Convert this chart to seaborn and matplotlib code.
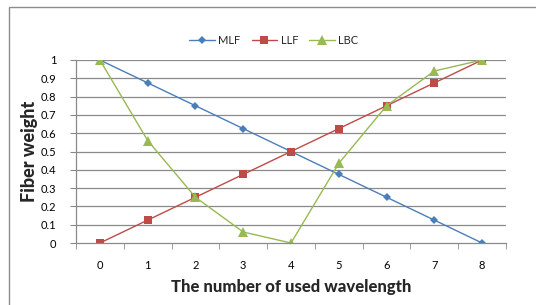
import matplotlib
matplotlib.use('Agg')
import matplotlib.pyplot as plt
import seaborn as sns
import pandas as pd
from matplotlib.patches import Rectangle

wavelengths = [0, 1, 2, 3, 4, 5, 6, 7, 8]
mlf = [1, 0.875, 0.75, 0.625, 0.5, 0.375, 0.25, 0.125, 0]
llf = [0, 0.125, 0.25, 0.375, 0.5, 0.625, 0.75, 0.875, 1]
lbc = [1, 0.56, 0.25, 0.06, 0, 0.435, 0.75, 0.94, 1]
yticks = [0, 0.1, 0.2, 0.3, 0.4, 0.5, 0.6, 0.7, 0.8, 0.9, 1]

df = pd.DataFrame({'x': wavelengths * 3,
                   'y': mlf + llf + lbc,
                   'series': ['MLF'] * 9 + ['LLF'] * 9 + ['LBC'] * 9})

sns.set_style('white')
plt.rcParams['font.family'] = ['Lato', 'DejaVu Sans']

fig = plt.figure(figsize=(5.36, 3.05), dpi=100)
ax = fig.add_axes([76/536, 1-243/305, 430/536, 183/305])

# outer chart border
fig.patches.append(Rectangle((9/536, -0.1), 1.2, 1-7/305+0.1, transform=fig.transFigure,
                             fill=False, edgecolor='#8c8c8c', linewidth=1.0))

palette = {'MLF': '#4a7ebb', 'LLF': '#be4b48', 'LBC': '#98b954'}
markers = {'MLF': 'D', 'LLF': 's', 'LBC': '^'}
sizes = {'MLF': 4, 'LLF': 6, 'LBC': 6.5}
for name in ['MLF', 'LLF', 'LBC']:
    sub = df[df['series'] == name]
    sns.lineplot(data=sub, x='x', y='y', ax=ax, color=palette[name], marker=markers[name],
                 markersize=sizes[name], markeredgewidth=0, linewidth=1.0, label=name,
                 alpha=1.0)

for yv in yticks[1:]:
    ax.axhline(yv, color='#8a8a8a', linewidth=0.9, zorder=0)

ax.set_xlim(-0.5, 8.5)
ax.set_ylim(0, 1)
ax.set_yticks(yticks)
ax.set_yticklabels(['0', '0.1', '0.2', '0.3', '0.4', '0.5', '0.6', '0.7', '0.8', '0.9', '1'])
ax.set_xticks(wavelengths)
ax.set_xticks([i - 0.5 for i in range(10)], minor=True)
ax.tick_params(axis='x', which='major', length=0, labelsize=8, pad=12)
ax.tick_params(axis='x', which='minor', length=4, direction='out', color='#8a8a8a', bottom=True)
ax.tick_params(axis='y', length=4, direction='out', labelsize=8, pad=10,
               left=True, color='#8a8a8a')
for lab in ax.get_yticklabels() + ax.get_xticklabels():
    lab.set_color('black')

for s in ['top', 'right']:
    ax.spines[s].set_visible(False)
for s in ['left', 'bottom']:
    ax.spines[s].set_color('#8a8a8a')
    ax.spines[s].set_linewidth(0.9)

ax.set_xlabel('The number of used wavelength', fontsize=12, fontweight='black', labelpad=6)
ax.set_ylabel('Fiber weight', fontsize=13, fontweight='black', labelpad=2)

ax.legend(loc='lower center', bbox_to_anchor=(0.46, 1.02), ncol=3, frameon=False,
          fontsize=8, handlelength=2.3, columnspacing=1.0, handletextpad=0.3)

fig.savefig('out.png', dpi=100)
